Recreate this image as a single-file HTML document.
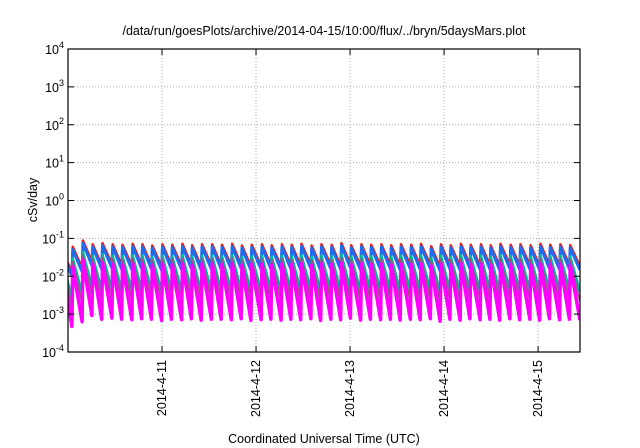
<!DOCTYPE html>
<html><head><meta charset="utf-8"><style>
body{margin:0;background:#fff;}
svg{display:block;font-family:"Liberation Sans",sans-serif;}
</style></head><body>
<svg id="chart" width="640" height="448" viewBox="0 0 640 448">
<text x="324" y="35" font-size="12.5" text-anchor="middle">/data/run/goesPlots/archive/2014-04-15/10:00/flux/../bryn/5daysMars.plot</text>
<g id="grid"></g><g id="series"></g><g id="axes"></g>
<text transform="translate(37,200) rotate(-90)" font-size="12.5" text-anchor="middle">cSv/day</text>
<text x="324" y="443" font-size="12.5" text-anchor="middle">Coordinated Universal Time (UTC)</text>
</svg>
<script>
const yTickExps=[-4,-3,-2,-1,0,1,2,3,4];
const xTickLabels=["2014-4-11","2014-4-12","2014-4-13","2014-4-14","2014-4-15"];
const xTickHours=[24,48,72,96,120];
const peakHours=[-1.5,1,3.6,6.1,8.6,11.2,13.7,16.3,18.8,21.3,23.9,26.4,29,31.5,34,36.6,39.1,41.7,44.2,46.7,49.3,51.8,54.4,56.9,59.4,62,64.5,67.1,69.6,72.1,74.7,77.2,79.8,82.3,84.8,87.4,89.9,92.5,95,97.5,100.1,102.6,105.2,107.7,110.2,112.8,115.3,117.9,120.4,122.9,125.5,128,130.7];
const redPeaks=[0.045,0.06,0.088,0.07,0.075,0.07,0.068,0.072,0.07,0.065,0.07,0.068,0.072,0.066,0.07,0.07,0.068,0.072,0.065,0.068,0.07,0.066,0.07,0.068,0.072,0.065,0.07,0.068,0.075,0.066,0.07,0.068,0.07,0.066,0.07,0.068,0.072,0.062,0.07,0.066,0.072,0.068,0.07,0.066,0.072,0.068,0.07,0.066,0.072,0.068,0.07,0.066,0.07];
const seriesNames=["red","blue","teal","purple","magenta"];
const seriesColors=["#e8201a","#1e6cf0","#00b898","#a0508a","#ff00ff"];
const seriesPeakScale=[1,0.85,0.5,0.4,0.3];
const seriesTroughRatio=[0.28,0.26,0.12,0.08,0.035];
const seriesWidth=[2.5,3,2.5,2,3.5];

const L=68,R=580,T=49,B=352,H0=0,H1=130.7;
const ns="http://www.w3.org/2000/svg";
const xs=h=>L+(h-H0)/(H1-H0)*(R-L);
const ys=v=>B-(Math.log10(v)+4)/8*(B-T);
function mk(tag,attrs,parent){const e=document.createElementNS(ns,tag);for(const k in attrs)e.setAttribute(k,attrs[k]);parent.appendChild(e);return e;}
const grid=document.getElementById('grid'),axes=document.getElementById('axes'),ser=document.getElementById('series');
yTickExps.forEach(p=>{const y=ys(Math.pow(10,p));
 if(p>-4&&p<4){const g=mk('line',{x1:L,x2:R,y1:y,y2:y,stroke:'#aaa','stroke-dasharray':'1,2'},grid);
 
 }
 mk('line',{x1:L,x2:L+6,y1:y,y2:y,stroke:'#000'},axes);mk('line',{x1:R,x2:R-6,y1:y,y2:y,stroke:'#000'},axes);
 const t=mk('text',{x:L-12,y:y+5,'font-size':'12.5','text-anchor':'end'},axes);
 
 
 t.textContent='10';const s=mk('tspan',{dy:-6,'font-size':'9'},t);s.textContent=String(p);
 t.setAttribute('transform','translate(8,0)');
});
xTickHours.forEach((h,i)=>{const x=xs(h);
 const g=mk('line',{x1:x,x2:x,y1:T,y2:B,stroke:'#aaa','stroke-dasharray':'1,2'},grid);
 
 
 mk('line',{x1:x,x2:x,y1:B,y2:B-6,stroke:'#000'},axes);mk('line',{x1:x,x2:x,y1:T,y2:T+6,stroke:'#000'},axes);
 const t=mk('text',{transform:`translate(${x+4},${B+8}) rotate(-90)`,'font-size':'12.5','text-anchor':'end'},axes);
 
 
 t.textContent=xTickLabels[i];
});
const fr=mk('rect',{x:L,y:T,width:R-L,height:B-T,fill:'none',stroke:'#000','stroke-width':1.2},axes);


const clip=mk('clipPath',{id:'pc'},ser);mk('rect',{x:L,y:T,width:R-L,height:B-T},clip);
seriesNames.forEach((n,si)=>{
 let pts=[];
 for(let i=0;i<peakHours.length-1;i++){
  const pk=redPeaks[i]*seriesPeakScale[si];
  pts.push(xs(peakHours[i])+0.8+','+ys(pk));
  pts.push(xs(peakHours[i+1])+','+ys(pk*seriesTroughRatio[si]));
 }
 const pl=mk('polyline',{points:pts.join(' '),fill:'none',stroke:seriesColors[si],'stroke-width':seriesWidth[si],'stroke-linejoin':'round','clip-path':'url(#pc)'},ser);
 
 
});
</script>
</body></html>
